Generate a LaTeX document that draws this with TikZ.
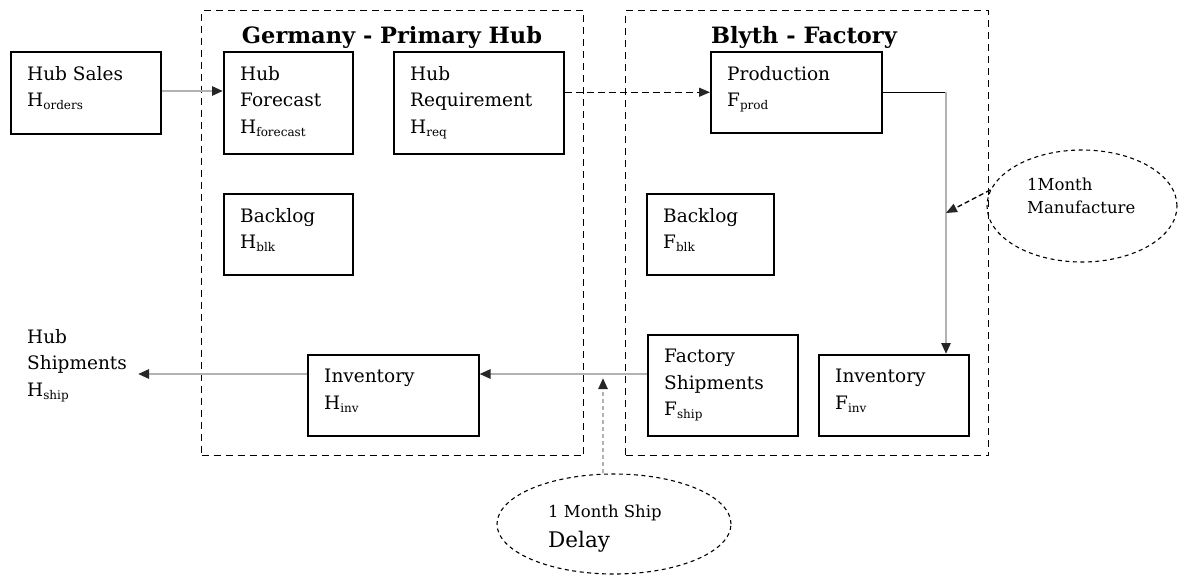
\documentclass[tikz,border=0pt]{standalone}
\usepackage{fontspec}
\setmainfont{DejaVu Serif}
\usetikzlibrary{arrows.meta,shapes.geometric}
\newcommand{\lsub}[1]{\raisebox{-3pt}{\fontsize{12}{12}\selectfont #1}}

\begin{document}
\begin{tikzpicture}[x=1pt,y=-1pt,
  box/.style={draw, line width=1.5pt, inner sep=0, anchor=north west},
  region/.style={draw, line width=1.4pt, dash pattern=on 7pt off 5pt, inner sep=0, anchor=north west},
  txt/.style={anchor=north west, inner sep=0, align=left,
    font=\fontsize{18.5}{26.5}\selectfont, execute at begin node=\rule{0pt}{14pt}},
  small/.style={anchor=north west, inner sep=0, align=left,
    font=\fontsize{16.5}{23}\selectfont, execute at begin node=\rule{0pt}{12.5pt}},
  title/.style={anchor=base, inner sep=0, font=\bfseries\fontsize{22.5}{26}\selectfont},
  delay/.style={draw, ellipse, line width=1.1pt, dash pattern=on 4pt off 3.5pt, inner sep=0},
  flow/.style={draw=gray!60, line width=2.6pt,
    -{Triangle[length=11pt,width=9pt,fill=gray!30!black,color=gray!30!black]}},
  order/.style={draw=black, line width=1.3pt, dash pattern=on 7pt off 4pt,
    -{Triangle[length=11pt,width=9pt,fill=gray!30!black,color=gray!30!black]}},
  pointer/.style={draw=black, line width=1.3pt, dash pattern=on 5pt off 3pt,
    -{Triangle[length=11pt,width=9pt,fill=gray!30!black,color=gray!30!black]}},
  lag/.style={draw=gray!60, line width=2.4pt, dash pattern=on 4pt off 3pt,
    -{Triangle[length=11pt,width=9pt,fill=gray!30!black,color=gray!30!black]}}
]
\useasboundingbox (0,0) rectangle (1184,574);

% site boundaries
\node[region, minimum width=382, minimum height=445] (hub) at (201,10) {};
\node[region, minimum width=363, minimum height=445] (fac) at (625,10) {};
\node[title] (hubt) at (392,43) {Germany - Primary Hub};
\node[title] (fact) at (804,43) {Blyth - Factory};

% boxes
\node[box, minimum width=150, minimum height=82]  (hs)   at (10,51)   {};
\node[box, minimum width=129, minimum height=102] (hf)   at (223,51)  {};
\node[box, minimum width=170, minimum height=102] (hr)   at (393,51)  {};
\node[box, minimum width=129, minimum height=81]  (hb)   at (223,193) {};
\node[box, minimum width=171, minimum height=81]  (hi)   at (307,354) {};
\node[box, minimum width=171, minimum height=81]  (fp)   at (710,51)  {};
\node[box, minimum width=127, minimum height=81]  (fb)   at (646,193) {};
\node[box, minimum width=150, minimum height=101] (fs)   at (647,334) {};
\node[box, minimum width=150, minimum height=81]  (fi)   at (818,354) {};

% box texts
\node[txt] (hs-t) at (27,66)  {Hub Sales\\H\lsub{orders}};
\node[txt] (hf-t) at (240,66) {Hub\\Forecast\\H\lsub{forecast}};
\node[txt] (hr-t) at (410,66) {Hub\\Requirement\\H\lsub{req}};
\node[txt] (hb-t) at (240,208) {Backlog\\H\lsub{blk}};
\node[txt] (hi-t) at (324,369) {Inventory\\H\lsub{inv}};
\node[txt] (fp-t) at (727,66) {Production\\F\lsub{prod}};
\node[txt] (fb-t) at (663,208) {Backlog\\F\lsub{blk}};
\node[txt] (fs-t) at (664,349) {Factory\\Shipments\\F\lsub{ship}};
\node[txt] (fi-t) at (835,369) {Inventory\\F\lsub{inv}};
\node[txt] (hsh)  at (27,329) {Hub\\Shipments\\H\lsub{ship}};

% delays
\node[delay, minimum width=190, minimum height=112] (mfg) at (1082,206) {};
\node[small] (mfg-t) at (1027,178) {1Month\\Manufacture};
\node[delay, minimum width=234, minimum height=100] (shp) at (614,524) {};
\node[anchor=base west, inner sep=0, font=\fontsize{16.5}{20}\selectfont] (shp-t1) at (548,517) {1 Month Ship};
\node[anchor=base west, inner sep=0, font=\fontsize{21.5}{24}\selectfont] (shp-t2) at (548,547) {Delay};

% helper points on the flow lines
\coordinate (bend) at (946,0);
\coordinate (shipline) at (0,374);
\coordinate (mtip) at (946,213);
\coordinate (stip) at (603,378);
\coordinate (hshtip) at (138,374);

% connectors
\draw[flow] (hs.east |- 0,91) -- (hf.west |- 0,91);
\draw[order] (hr.east |- fp.west) -- (fp.west);
\draw[black, line width=1.4pt] (fp.east) -- (fp.east -| bend);
\draw[flow] (fp.east -| bend) -- (bend |- fi.north);
\draw[pointer] (mfg.170) -- (mtip);
\draw[flow] (fs.west |- shipline) -- (hi.east |- shipline);
\draw[flow] (hi.west |- shipline) -- (hshtip);
\draw[lag] (stip |- shp.north) -- (stip);
\end{tikzpicture}
\end{document}
